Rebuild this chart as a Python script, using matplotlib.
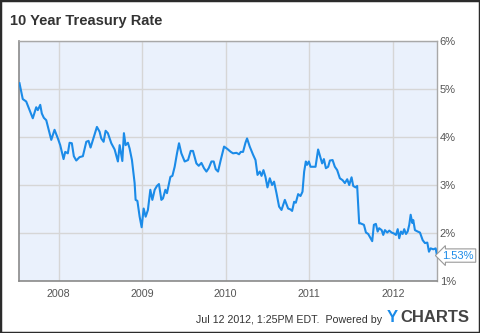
import numpy as np
import matplotlib.pyplot as plt
from matplotlib.patches import Rectangle

plt.rcParams['font.family'] = ['Liberation Sans', 'DejaVu Sans']

# 10 year treasury yield, dates as decimal years
years = [2007.533, 2007.572, 2007.613, 2007.653, 2007.692, 2007.733, 2007.752, 2007.781,
         2007.800, 2007.824, 2007.853, 2007.913, 2007.952, 2007.992, 2008.020, 2008.060,
         2008.080, 2008.111, 2008.132, 2008.159, 2008.183, 2008.212, 2008.251, 2008.291,
         2008.332, 2008.359, 2008.383, 2008.411, 2008.459, 2008.491, 2008.511, 2008.539,
         2008.563, 2008.590, 2008.631, 2008.671, 2008.710, 2008.731, 2008.763, 2008.782,
         2008.802, 2008.830, 2008.850, 2008.878, 2008.910, 2008.922, 2008.943, 2008.970,
         2008.994, 2009.018, 2009.042, 2009.069, 2009.098, 2009.122, 2009.150, 2009.177,
         2009.201, 2009.230, 2009.249, 2009.278, 2009.297, 2009.338, 2009.362, 2009.389,
         2009.417, 2009.441, 2009.469, 2009.509, 2009.549, 2009.581, 2009.608, 2009.649,
         2009.677, 2009.709, 2009.740, 2009.769, 2009.796, 2009.829, 2009.856, 2009.880,
         2009.908, 2009.940, 2009.980, 2010.020, 2010.060, 2010.087, 2010.128, 2010.159,
         2010.180, 2010.207, 2010.236, 2010.255, 2010.287, 2010.327, 2010.356, 2010.380,
         2010.407, 2010.428, 2010.451, 2010.475, 2010.499, 2010.527, 2010.554, 2010.578,
         2010.607, 2010.638, 2010.667, 2010.707, 2010.746, 2010.775, 2010.794, 2010.818,
         2010.838, 2010.866, 2010.894, 2010.918, 2010.938, 2010.958, 2010.973, 2010.994,
         2011.014, 2011.045, 2011.074, 2011.105, 2011.134, 2011.153, 2011.174, 2011.198,
         2011.225, 2011.246, 2011.278, 2011.305, 2011.333, 2011.365, 2011.398, 2011.425,
         2011.453, 2011.477, 2011.505, 2011.525, 2011.553, 2011.572, 2011.596, 2011.613,
         2011.653, 2011.677, 2011.704, 2011.752, 2011.772, 2011.796, 2011.817, 2011.835,
         2011.865, 2011.884, 2011.904, 2011.932, 2011.956, 2011.984, 2012.012, 2012.036,
         2012.057, 2012.075, 2012.096, 2012.116, 2012.135, 2012.156, 2012.176, 2012.195,
         2012.212, 2012.231, 2012.243, 2012.263, 2012.296, 2012.323, 2012.356, 2012.383,
         2012.411, 2012.431, 2012.451, 2012.483, 2012.511, 2012.527]
rate = [5.12, 4.79, 4.74, 4.56, 4.39, 4.62, 4.56, 4.67,
        4.49, 4.40, 4.35, 3.94, 4.15, 3.97, 3.83, 3.54,
        3.69, 3.66, 3.88, 3.87, 3.60, 3.51, 3.58, 3.60,
        3.90, 3.92, 3.78, 3.94, 4.21, 4.11, 3.97, 3.90,
        4.13, 4.08, 3.87, 3.74, 3.49, 3.83, 3.50, 4.08,
        3.83, 3.88, 3.76, 3.52, 3.04, 2.69, 2.67, 2.34,
        2.12, 2.51, 2.34, 2.48, 2.90, 2.69, 2.90, 2.98,
        3.02, 2.69, 2.72, 2.90, 2.83, 3.17, 3.19, 3.38,
        3.66, 3.87, 3.66, 3.49, 3.52, 3.71, 3.71, 3.45,
        3.40, 3.46, 3.35, 3.28, 3.35, 3.49, 3.49, 3.33,
        3.28, 3.52, 3.80, 3.75, 3.69, 3.66, 3.67, 3.64,
        3.69, 3.69, 3.88, 3.97, 3.80, 3.63, 3.52, 3.21,
        3.28, 3.19, 3.31, 3.17, 2.95, 3.14, 3.00, 3.07,
        2.83, 2.55, 2.48, 2.69, 2.51, 2.49, 2.46, 2.65,
        2.63, 2.81, 2.77, 2.86, 3.28, 3.49, 3.42, 3.49,
        3.38, 3.38, 3.38, 3.74, 3.56, 3.45, 3.54, 3.35,
        3.38, 3.51, 3.52, 3.38, 3.31, 3.14, 3.10, 3.04,
        3.12, 3.00, 3.16, 2.98, 2.95, 2.98, 2.20, 2.20,
        2.17, 2.01, 1.98, 1.83, 2.17, 2.19, 2.03, 2.10,
        2.06, 1.96, 2.06, 2.01, 2.05, 2.01, 1.99, 1.96,
        2.08, 1.89, 2.03, 1.98, 2.08, 1.98, 2.03, 2.17,
        2.38, 2.21, 2.27, 2.06, 2.03, 2.01, 1.85, 1.79,
        1.80, 1.61, 1.68, 1.66, 1.68, 1.53]

year_ticks = [2008, 2009, 2010, 2011, 2012]
pct_ticks = [1, 2, 3, 4, 5, 6]
last_value = rate[-1]

line_blue = '#1b8be8'
text_grey = '#555555'

fig = plt.figure(figsize=(4.8, 3.33), dpi=100)
ax = fig.add_axes([19 / 480, 1 - 281 / 333, 418 / 480, 240 / 333])
ax.set_facecolor('#eaf1fc')

ax.plot(years, rate, color=line_blue, lw=1.5, solid_joinstyle='round', zorder=3)

ax.set_xlim(2007.527, 2012.527)
ax.set_ylim(1, 6)
ax.set_xticks(year_ticks)
ax.set_xticklabels([str(y) for y in year_ticks])
ax.set_yticks(pct_ticks)
ax.set_yticklabels(['%d%%' % p for p in pct_ticks])
ax.yaxis.tick_right()
ax.tick_params(axis='both', length=0, colors=text_grey)
ax.tick_params(axis='y', pad=2, labelsize=8)
ax.tick_params(axis='x', pad=6, labelsize=7.7)
ax.grid(True, color='#d6d6d6', lw=1)
ax.set_axisbelow(True)
for side in ['left', 'bottom']:
    ax.spines[side].set_color('#8a8a8a')
    ax.spines[side].set_linewidth(1.2)
for side in ['top', 'right']:
    ax.spines[side].set_color('#a8a8a8')
    ax.spines[side].set_linewidth(1)

# last value flag on the right axis
ax.annotate('%.2f%%' % last_value, xy=(1, last_value), xycoords=('axes fraction', 'data'),
            xytext=(4, 0), textcoords='offset points', ha='left', va='center',
            fontsize=8, color=line_blue,
            bbox=dict(boxstyle='larrow,pad=0.15', fc='white', ec='#9a9a9a', lw=0.8))

fig.text(10 / 480, 1 - 21 / 333, '10 Year Treasury Rate', fontsize=10.5, fontweight='bold',
         color='#333333', va='center', ha='left')
fig.text(382 / 480, 1 - 320 / 333, 'Jul 12 2012, 1:25PM EDT.  Powered by', fontsize=7.7,
         color='#333333', va='center', ha='right')
fig.text(387 / 480, 1 - 318 / 333, 'Y', fontsize=12, fontweight='bold', color='#1b8be8',
         va='center', ha='left')
fig.text(400 / 480, 1 - 318 / 333, 'CHARTS', fontsize=12, fontweight='bold', color='#444444',
         va='center', ha='left')

fig.patches.append(Rectangle((0, 0), 1, 1, transform=fig.transFigure, fill=False,
                             ec='#2b2b2b', lw=2.5))

fig.savefig('out.png', dpi=100)
